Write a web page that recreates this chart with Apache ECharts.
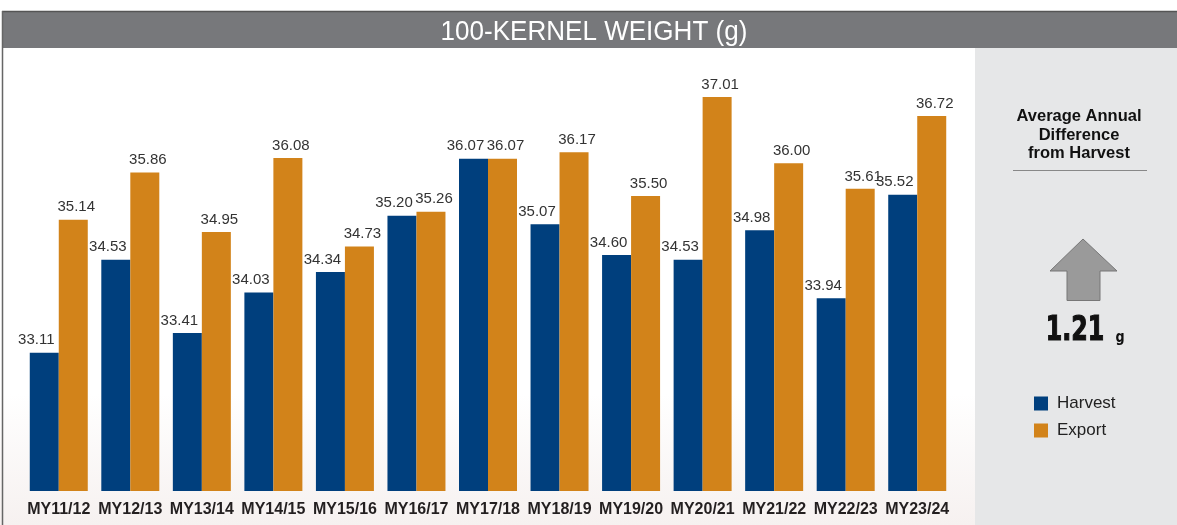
<!DOCTYPE html>
<html><head><meta charset="utf-8">
<script src="https://cdn.jsdelivr.net/npm/echarts@6/dist/echarts.min.js"></script>
<style>html,body{margin:0;padding:0;background:#fff}#c{width:1177px;height:525px}</style>
</head><body><div id="c"></div>
<script>
const categories = ['MY11/12','MY12/13','MY13/14','MY14/15','MY15/16','MY16/17','MY17/18','MY18/19','MY19/20','MY20/21','MY21/22','MY22/23','MY23/24'];
const harvest = [33.11,34.53,33.41,34.03,34.34,35.20,36.07,35.07,34.60,34.53,34.98,33.94,35.52];
const exportVals = [35.14,35.86,34.95,36.08,34.73,35.26,36.07,36.17,35.50,37.01,36.00,35.61,36.72];
const avgDiff = '1.21';

const FONT = 'Liberation Sans, Arial, sans-serif';
const chart = echarts.init(document.getElementById('c'));
const lbl = (dx) => ({show:true, position:'top', distance:5, offset:[dx,0], color:'#333', fontSize:15, fontFamily:FONT, formatter: p => p.value.toFixed(2)});
chart.setOption({
  animation:false,
  backgroundColor: {type:'linear',x:0,y:0,x2:0,y2:1,colorStops:[{offset:0,color:'#ffffff'},{offset:0.75,color:'#ffffff'},{offset:1,color:'#f6f1f0'}]},
  grid:{left:23, right:224, top:65, bottom:34, containLabel:false},
  legend:{orient:'vertical', left:1034, top:395, padding:0, itemWidth:14, itemHeight:14, itemGap:10,
    icon:'rect', textStyle:{fontSize:17, color:'#222', fontFamily:FONT, padding:[0,0,0,4]},
    data:['Harvest','Export']},
  xAxis:{type:'category', data:categories, axisLine:{show:false}, axisTick:{show:false},
    axisLabel:{margin:11, fontSize:16, fontWeight:'bold', color:'#231f20', fontFamily:FONT, interval:0}},
  yAxis:{type:'value', min:31, max:37.5, show:false, splitLine:{show:false}},
  series:[
    {name:'Harvest', type:'bar', data:harvest, barWidth:29, barGap:'0%', itemStyle:{color:'#003f7d'}, label:lbl(-8)},
    {name:'Export', type:'bar', data:exportVals, barWidth:29, barGap:'0%', itemStyle:{color:'#d2831a'}, label:lbl(3)}
  ],
  graphic:[
    {type:'rect', z:-1, shape:{x:975,y:48,width:202,height:477}, style:{fill:'#e6e7e8'}},
    {type:'rect', shape:{x:2,y:11,width:1175,height:37}, style:{fill:'#77787b'}},
    {type:'line', shape:{x1:2,y1:11.5,x2:1177,y2:11.5}, style:{stroke:'#555',lineWidth:1.5}},
    {type:'line', shape:{x1:2.5,y1:11,x2:2.5,y2:525}, style:{stroke:'#666',lineWidth:1.5}},
    {type:'text', x:594, y:32, scaleX:0.93, style:{text:'100-KERNEL WEIGHT (g)', fill:'#fff', fontSize:28, fontFamily:FONT, align:'center', verticalAlign:'middle'}},
    {type:'text', x:1079, y:135, style:{text:'Average Annual\nDifference\nfrom Harvest', fill:'#111', fontSize:16.5, fontWeight:'bold', lineHeight:18.5, fontFamily:FONT, align:'center', verticalAlign:'middle'}},
    {type:'line', shape:{x1:1013,y1:170.5,x2:1147,y2:170.5}, style:{stroke:'#888',lineWidth:1.2}},
    {type:'polygon', shape:{points:[[1083,239],[1117,271],[1100,271],[1100,300.5],[1067,300.5],[1067,271],[1050,271]]}, style:{fill:'#9a9a9a',stroke:'#777',lineWidth:1}},
    {type:'text', x:1075, y:331, scaleX:0.72, style:{text:avgDiff, fill:'#111', stroke:'#111', lineWidth:1.2, fontSize:33, fontWeight:'bold', fontFamily:'DejaVu Sans, sans-serif', align:'center', verticalAlign:'middle'}},
    {type:'text', x:1120, y:338, scaleX:0.85, style:{text:'g', fill:'#111', fontSize:15, fontWeight:'bold', fontFamily:'DejaVu Sans, sans-serif', align:'center', verticalAlign:'middle'}}
  ]
});
</script></body></html>
